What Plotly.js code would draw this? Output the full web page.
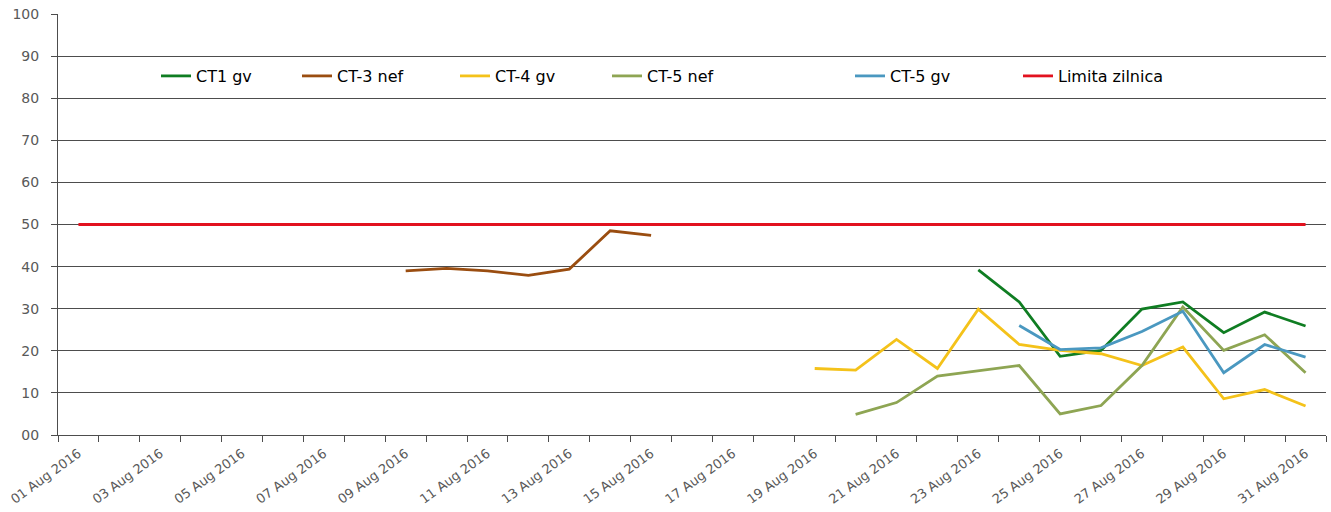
<!DOCTYPE html>
<html>
<head>
<meta charset="utf-8">
<script src="https://cdn.plot.ly/plotly-3.0.1.min.js"></script>
<style>html,body{margin:0;padding:0;background:#fff;}#chart{width:1331px;height:512px;}</style>
</head>
<body>
<div id="chart"></div>
<script>
// Days of August 2016 (one point per day)
const dates = [
  "2016-08-01","2016-08-02","2016-08-03","2016-08-04","2016-08-05","2016-08-06","2016-08-07","2016-08-08",
  "2016-08-09","2016-08-10","2016-08-11","2016-08-12","2016-08-13","2016-08-14","2016-08-15","2016-08-16",
  "2016-08-17","2016-08-18","2016-08-19","2016-08-20","2016-08-21","2016-08-22","2016-08-23","2016-08-24",
  "2016-08-25","2016-08-26","2016-08-27","2016-08-28","2016-08-29","2016-08-30","2016-08-31"
];
const seriesNames = ["CT1 gv", "CT-3 nef", "CT-4 gv", "CT-5 nef", "CT-5 gv", "Limita zilnica"];
const _ = null;
//                 01 02 03 04 05 06 07 08  09    10    11    12    13    14    15    16 17 18  19    20    21    22    23    24    25    26    27    28    29    30    31
const ct1gv   = [ _, _, _, _, _, _, _, _,  _,    _,    _,    _,    _,    _,    _,    _, _, _,  _,    _,    _,    _,    39.2, 31.6, 18.7, 20.1, 29.9, 31.6, 24.3, 29.2, 25.9];
const ct3nef  = [ _, _, _, _, _, _, _, _,  39.0, 39.6, 39.0, 37.9, 39.4, 48.5, 47.4, _, _, _,  _,    _,    _,    _,    _,    _,    _,    _,    _,    _,    _,    _,    _];
const ct4gv   = [ _, _, _, _, _, _, _, _,  _,    _,    _,    _,    _,    _,    _,    _, _, _,  15.8, 15.4, 22.7, 15.8, 29.9, 21.5, 20.1, 19.3, 16.5, 20.9, 8.6,  10.8, 6.9];
const ct5nef  = [ _, _, _, _, _, _, _, _,  _,    _,    _,    _,    _,    _,    _,    _, _, _,  _,    4.9,  7.7,  14.0, 15.3, 16.5, 5.0,  7.0,  16.5, 30.4, 20.1, 23.8, 14.8];
const ct5gv   = [ _, _, _, _, _, _, _, _,  _,    _,    _,    _,    _,    _,    _,    _, _, _,  _,    _,    _,    _,    _,    26.0, 20.3, 20.7, 24.6, 29.4, 14.8, 21.5, 18.5];
const limita  = [50,50,50,50,50,50,50,50, 50,   50,   50,   50,   50,   50,   50,   50,50,50, 50,   50,   50,   50,   50,   50,   50,   50,   50,   50,   50,   50,   50];
const yTickVals = [0,10,20,30,40,50,60,70,80,90,100];
const yTickText = ["00","10","20","30","40","50","60","70","80","90","100"];

const allSeries = [ct1gv, ct3nef, ct4gv, ct5nef, ct5gv, limita];
const colors = ["#0f7d22", "#9a4d10", "#f4c21a", "#8ea553", "#4a98c0", "#e2121f"];
const legendIds = ["legend", "legend2", "legend3", "legend4", "legend5", "legend6"];
const legendLinePx = [161, 302, 460, 612, 855, 1023];

const W = 1331, H = 512;
const M = {l: 58, r: 5, t: 14, b: 77};
const plotW = W - M.l - M.r;
const plotH = H - M.t - M.b;

const traces = allSeries.map((vals, i) => ({
  type: "scatter",
  mode: "lines",
  x: dates,
  y: vals,
  name: seriesNames[i],
  legend: legendIds[i],
  line: {color: colors[i], width: 2.8},
  connectgaps: false,
  hoverinfo: "x+y+name"
}));

const layout = {
  width: W, height: H,
  margin: M,
  paper_bgcolor: "#ffffff",
  plot_bgcolor: "#ffffff",
  font: {family: "DejaVu Sans, Liberation Sans, sans-serif", size: 13, color: "#595959"},
  showlegend: true,
  xaxis: {
    type: "date",
    range: ["2016-07-31 12:00", "2016-08-31 12:00"],
    tick0: "2016-08-01",
    dtick: 2 * 86400000,
    tickformat: "%d %b %Y",
    tickangle: -36,
    ticks: "",
    ticklabelstandoff: 5,
    tickfont: {size: 13, color: "#595959"},
    showgrid: false,
    zeroline: false,
    showline: true,
    linecolor: "#4d4d4d",
    linewidth: 1,
    minor: {ticks: "outside", ticklen: 6, tickcolor: "#4d4d4d", tickwidth: 1, dtick: 86400000, tick0: "2016-07-31 12:00", showgrid: false}
  },
  yaxis: {
    range: [0, 100],
    tickmode: "array",
    tickvals: yTickVals,
    ticktext: yTickText,
    ticks: "outside",
    ticklen: 6,
    tickcolor: "#4d4d4d",
    ticklabelstandoff: 9,
    tickfont: {size: 14, color: "#595959"},
    showgrid: true,
    gridcolor: "#4d4d4d",
    gridwidth: 1,
    zeroline: false,
    showline: true,
    linecolor: "#4d4d4d",
    linewidth: 1
  }
};

legendIds.forEach((id, i) => {
  layout[id] = {
    orientation: "h",
    x: (legendLinePx[i] - M.l - 5) / plotW,
    xanchor: "left",
    y: (H - M.b - 76) / plotH,
    yanchor: "middle",
    bgcolor: "rgba(0,0,0,0)",
    borderwidth: 0,
    font: {family: "DejaVu Sans, Liberation Sans, sans-serif", size: 16, color: "#000000"}
  };
});

Plotly.newPlot("chart", traces, layout, {displayModeBar: false, staticPlot: true});
</script>
</body>
</html>
